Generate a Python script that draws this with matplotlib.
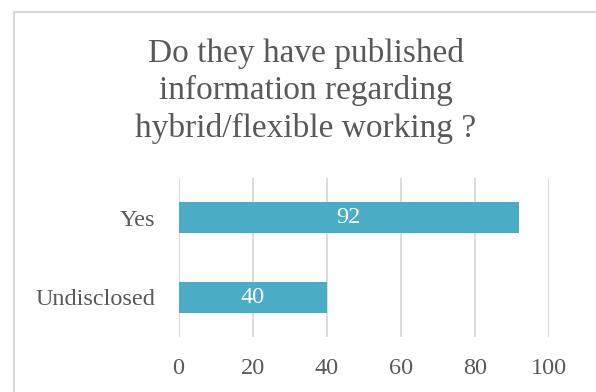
import matplotlib
matplotlib.use("Agg")
import matplotlib.pyplot as plt
from matplotlib.patches import Rectangle

# Data
categories = ["Undisclosed", "Yes"]
counts = [40, 92]
x_ticks = [0, 20, 40, 60, 80, 100]

BAR_COLOR = "#4BACC6"
TEXT_COLOR = "#595959"
GRID_COLOR = "#D9D9D9"

plt.rcParams["font.family"] = ["Liberation Serif", "DejaVu Serif"]

W, H = 596, 392
fig = plt.figure(figsize=(W / 100, H / 100), dpi=100)

# outer chart frame (runs off the right and bottom edges)
fig.patches.append(Rectangle((14 / W, -0.1), 1.2, 1.1 - 12 / H,
                             transform=fig.transFigure, fill=False,
                             edgecolor=GRID_COLOR, linewidth=1.5))

ax = fig.add_axes([178.5 / W, 1 - 337 / H, (549 - 178.5) / W, (337 - 178) / H])
ax.barh(categories, counts, height=0.39, color=BAR_COLOR, zorder=3)
for i, v in enumerate(counts):
    ax.text(v / 2, i, str(v), ha="center", va="center", color="white",
            fontsize=17.5, zorder=4)

ax.set_xlim(0, 100)
ax.set_ylim(-0.5, 1.5)
ax.set_xticks(x_ticks)
ax.xaxis.grid(True, color=GRID_COLOR, linewidth=1.3, zorder=0)
for s in ax.spines.values():
    s.set_visible(False)
ax.tick_params(axis="both", length=0, colors=TEXT_COLOR, labelsize=17.5)
ax.tick_params(axis="x", pad=15)
ax.tick_params(axis="y", pad=16.5)

fig.text(306 / W, 1 - 91 / H,
         "Do they have published\ninformation regarding\nhybrid/flexible working ?",
         ha="center", va="center", fontsize=24, color=TEXT_COLOR,
         linespacing=1.28)

fig.savefig("out.png", dpi=100)
